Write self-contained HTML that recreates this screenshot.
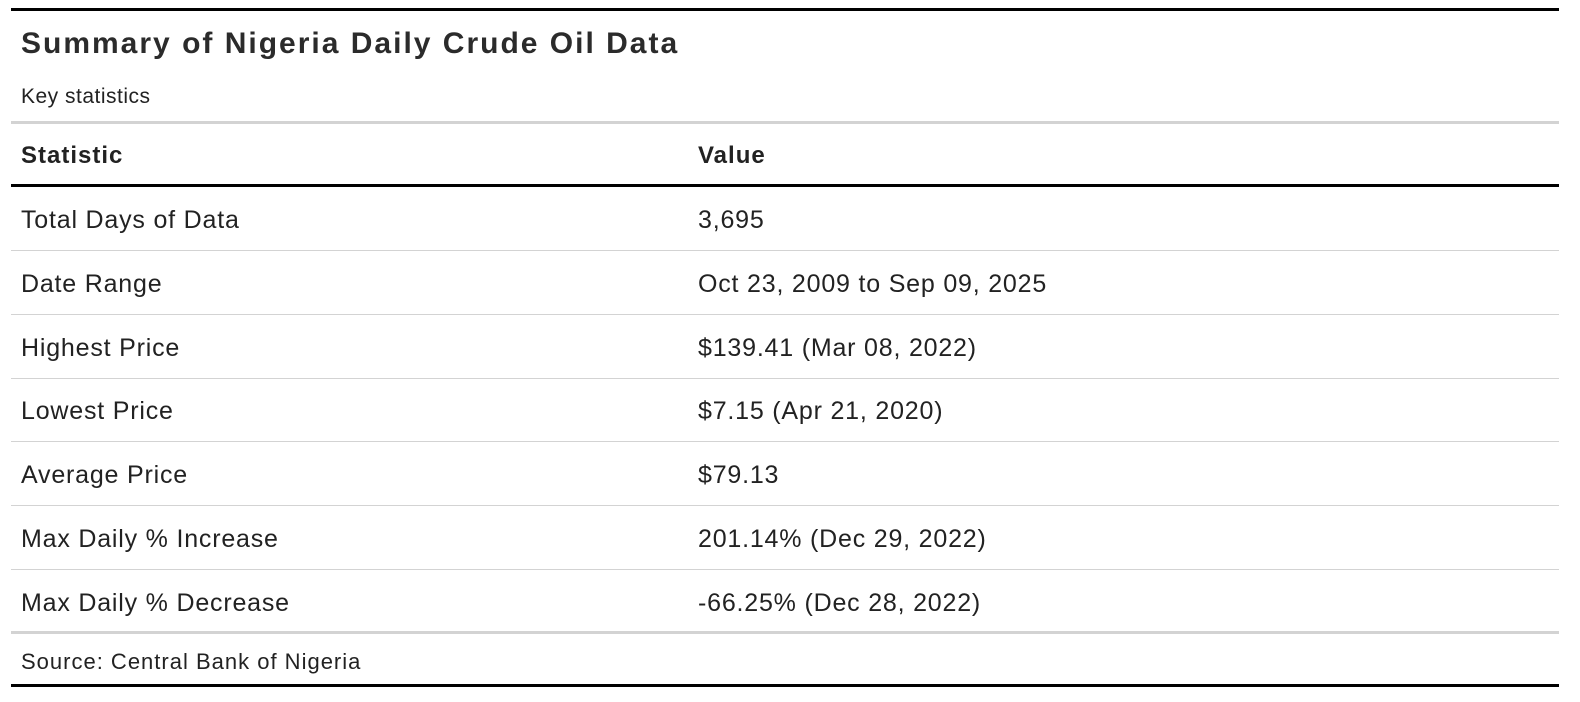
<!DOCTYPE html>
<html><head><meta charset="utf-8"><style>
body{margin:0;width:1580px;height:702px;background:#fff;font-family:"Liberation Sans","DejaVu Sans",sans-serif;color:#222;position:relative;overflow:hidden}
.line{position:absolute;left:11px;width:1548px}
.t{position:absolute;white-space:nowrap}
</style></head><body>
<div class="line" style="top:8px;height:3px;background:#000"></div>
<div class="t" style="left:21px;top:27px;font-size:30px;letter-spacing:2px;font-weight:bold;color:#2b2b2b">Summary of Nigeria Daily Crude Oil Data</div>
<div class="t" style="left:21px;top:85px;font-size:21px;letter-spacing:0.5px">Key statistics</div>
<div class="line" style="top:121px;height:3px;background:#d3d3d3"></div>
<div class="t" style="left:21px;top:142px;font-size:24px;letter-spacing:1px;font-weight:bold">Statistic</div>
<div class="t" style="left:698px;top:142px;font-size:24px;letter-spacing:1px;font-weight:bold">Value</div>
<div class="line" style="top:184px;height:3px;background:#000"></div>
<div id="rows"></div>
<div class="line" style="top:631px;height:3px;background:#d3d3d3"></div>
<div class="t" style="left:21px;top:649px;font-size:22px;letter-spacing:1px">Source: Central Bank of Nigeria</div>
<div class="line" style="top:684px;height:3px;background:#000"></div>
<script>
const stats=["Total Days of Data","Date Range","Highest Price","Lowest Price","Average Price","Max Daily % Increase","Max Daily % Decrease"];
const vals=["3,695","Oct 23, 2009 to Sep 09, 2025","$139.41 (Mar 08, 2022)","$7.15 (Apr 21, 2020)","$79.13","201.14% (Dec 29, 2022)","-66.25% (Dec 28, 2022)"];
const root=document.getElementById('rows');
stats.forEach((s,i)=>{
  const top=187+i*63.8;
  const a=document.createElement('div');a.className='t';
  
  
  a.style.cssText=`left:21px;top:${top+19}px;font-size:25px;letter-spacing:0.8px`;a.textContent=s;root.appendChild(a);
  const b=document.createElement('div');b.className='t';
  
  
  b.style.cssText=`left:698px;top:${top+19}px;font-size:25px;letter-spacing:0.8px`;b.textContent=vals[i];root.appendChild(b);
  if(i<stats.length-1){const l=document.createElement('div');l.className='line';
  
  
  l.style.cssText=`top:${top+63}px;height:1px;background:#d3d3d3`;root.appendChild(l);}
});
</script>
</body></html>
